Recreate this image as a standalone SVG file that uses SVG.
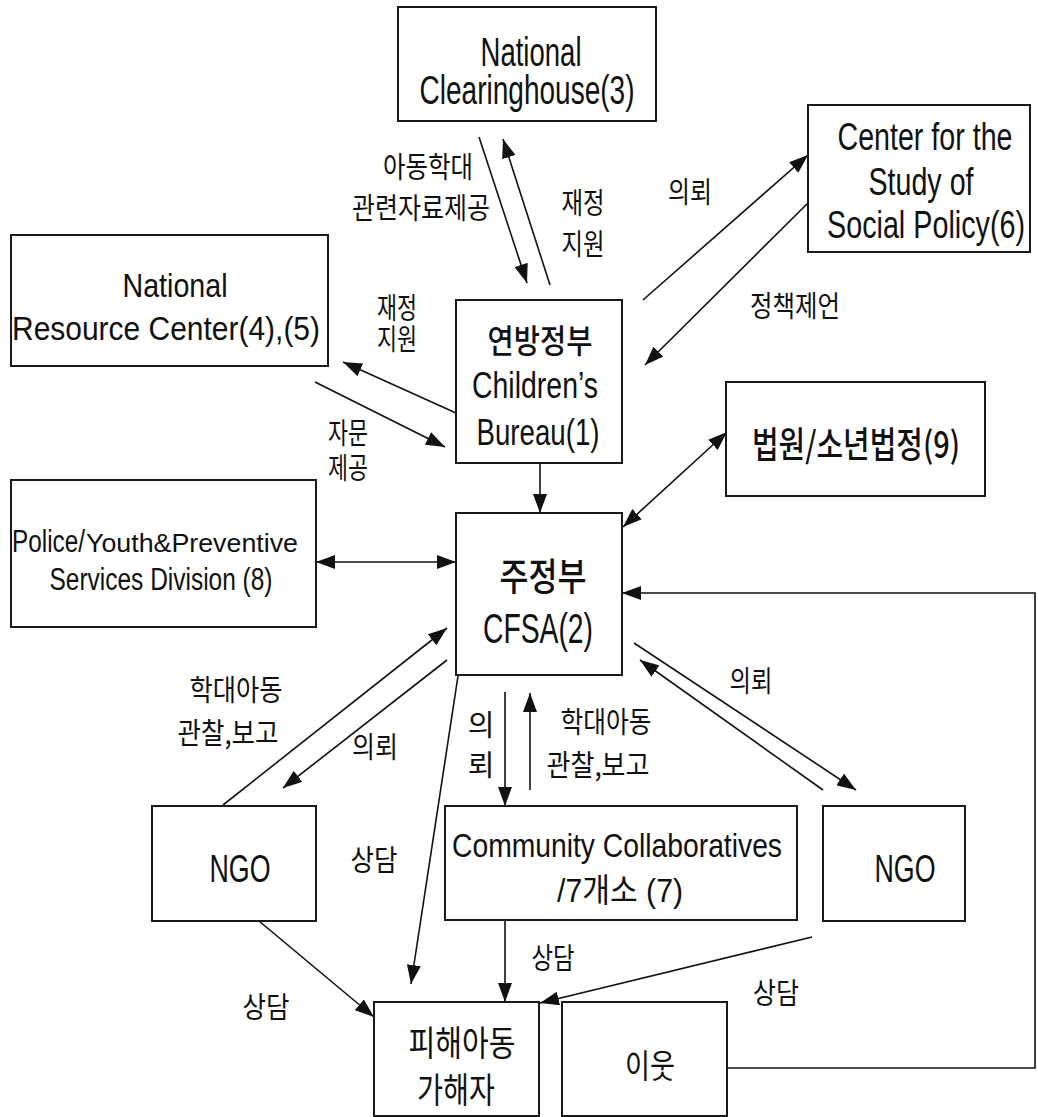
<svg xmlns="http://www.w3.org/2000/svg" width="1038" height="1117" viewBox="0 0 1038 1117">
<style>
.box{fill:#fff;stroke:#1a1a1a;stroke-width:2}
.en{font-family:"Liberation Sans","Noto Sans CJK KR",sans-serif;fill:#111;text-anchor:middle}
.ko{font-family:"Noto Sans CJK KR",sans-serif;fill:#111;text-anchor:middle;dominant-baseline:central}
.bk{font-weight:500}
.lab{font-size:29px}
.ln{fill:none;stroke:#111;stroke-width:1.6}
.a{marker-end:url(#ah)}
.aa{marker-end:url(#ah);marker-start:url(#ah)}
</style>
<defs>
<marker id="ah" markerUnits="userSpaceOnUse" markerWidth="19" markerHeight="14" viewBox="0 0 19 14" refX="19" refY="7" orient="auto-start-reverse">
<path d="M0,0 L19,7 L0,14 z" fill="#111"/>
</marker>
</defs>

<g id="connectors">
<line class="ln a" x1="479" y1="137" x2="527" y2="283"/>
<line class="ln a" x1="550" y1="285" x2="503" y2="139"/>
<line class="ln a" x1="643" y1="300" x2="808" y2="155"/>
<line class="ln a" x1="808" y1="203" x2="645" y2="365"/>
<line class="ln a" x1="456" y1="413" x2="343" y2="362"/>
<line class="ln a" x1="315" y1="382" x2="445" y2="447"/>
<line class="ln a" x1="540" y1="463" x2="540" y2="513"/>
<line class="ln aa" x1="727" y1="432" x2="623" y2="527"/>
<line class="ln aa" x1="316" y1="562" x2="456" y2="562"/>
<line class="ln a" x1="223" y1="805" x2="447" y2="628"/>
<line class="ln a" x1="447" y1="660" x2="283" y2="788"/>
<line class="ln a" x1="505" y1="692" x2="505" y2="806"/>
<line class="ln a" x1="530" y1="790" x2="530" y2="693"/>
<line class="ln a" x1="634" y1="643" x2="856" y2="790"/>
<line class="ln a" x1="823" y1="790" x2="640" y2="660"/>
<line class="ln a" x1="458" y1="676" x2="411" y2="984"/>
<line class="ln a" x1="259" y1="921" x2="374" y2="1017"/>
<line class="ln a" x1="505" y1="921" x2="505" y2="1002"/>
<line class="ln a" x1="812" y1="937" x2="540" y2="1003"/>
<polyline class="ln a" points="727,1068 1035,1068 1035,593 622,593"/>
</g>

<g id="labels">
<text class="ko lab" x="428" y="165" textLength="90" lengthAdjust="spacingAndGlyphs">아동학대</text>
<text class="ko lab" x="421" y="206" textLength="138" lengthAdjust="spacingAndGlyphs">관련자료제공</text>
<text class="ko lab" x="583" y="201" textLength="43" lengthAdjust="spacingAndGlyphs">재정</text>
<text class="ko lab" x="583" y="242" textLength="43" lengthAdjust="spacingAndGlyphs">지원</text>
<text class="ko lab" x="690" y="190" textLength="44" lengthAdjust="spacingAndGlyphs">의뢰</text>
<text class="ko lab" x="795" y="304" textLength="90" lengthAdjust="spacingAndGlyphs">정책제언</text>
<text class="ko lab" x="397" y="306" textLength="40" lengthAdjust="spacingAndGlyphs">재정</text>
<text class="ko lab" x="397" y="337" textLength="40" lengthAdjust="spacingAndGlyphs">지원</text>
<text class="ko lab" x="348" y="431" textLength="40" lengthAdjust="spacingAndGlyphs">자문</text>
<text class="ko lab" x="348" y="466" textLength="40" lengthAdjust="spacingAndGlyphs">제공</text>
<text class="ko lab" x="236" y="688" textLength="93" lengthAdjust="spacingAndGlyphs">학대아동</text>
<text class="ko lab" x="228" y="731" textLength="101" lengthAdjust="spacingAndGlyphs">관찰,보고</text>
<text class="ko lab" x="375" y="745" textLength="46" lengthAdjust="spacingAndGlyphs">의뢰</text>
<text class="ko lab" x="481" y="723">의</text>
<text class="ko lab" x="481" y="763">뢰</text>
<text class="ko lab" x="606" y="720" textLength="91" lengthAdjust="spacingAndGlyphs">학대아동</text>
<text class="ko lab" x="598" y="763" textLength="103" lengthAdjust="spacingAndGlyphs">관찰,보고</text>
<text class="ko lab" x="751" y="679" textLength="43" lengthAdjust="spacingAndGlyphs">의뢰</text>
<text class="ko lab" x="374" y="858" textLength="47" lengthAdjust="spacingAndGlyphs">상담</text>
<text class="ko lab" x="266" y="1005" textLength="47" lengthAdjust="spacingAndGlyphs">상담</text>
<text class="ko lab" x="553" y="956" textLength="43" lengthAdjust="spacingAndGlyphs">상담</text>
<text class="ko lab" x="776" y="991" textLength="46" lengthAdjust="spacingAndGlyphs">상담</text>
</g>

<g id="clearinghouse">
<rect class="box" x="398" y="7" width="258" height="114"/>
<text class="en" x="531" y="66" font-size="41" textLength="101" lengthAdjust="spacingAndGlyphs">National</text>
<text class="en" x="527" y="104" font-size="41" textLength="215" lengthAdjust="spacingAndGlyphs">Clearinghouse(3)</text>
</g>

<g id="center-social-policy">
<rect class="box" x="808" y="105" width="222" height="147"/>
<text class="en" x="925" y="150" font-size="38" textLength="175" lengthAdjust="spacingAndGlyphs">Center for the</text>
<text class="en" x="921" y="195" font-size="38" textLength="105" lengthAdjust="spacingAndGlyphs">Study of</text>
<text class="en" x="926" y="238" font-size="38" textLength="198" lengthAdjust="spacingAndGlyphs">Social Policy(6)</text>
</g>

<g id="resource-center">
<rect class="box" x="11" y="235" width="317" height="131"/>
<text class="en" x="175" y="297" font-size="33" textLength="105" lengthAdjust="spacingAndGlyphs">National</text>
<text class="en" x="166" y="340" font-size="33" textLength="308" lengthAdjust="spacingAndGlyphs">Resource Center(4),(5)</text>
</g>

<g id="childrens-bureau">
<rect class="box" x="456" y="300" width="166" height="163"/>
<text class="ko bk" x="540" y="339" font-size="33" textLength="105" lengthAdjust="spacingAndGlyphs">연방정부</text>
<text class="en" x="535" y="398" font-size="36" textLength="126" lengthAdjust="spacingAndGlyphs">Children’s</text>
<text class="en" x="538" y="445" font-size="36" textLength="123" lengthAdjust="spacingAndGlyphs">Bureau(1)</text>
</g>

<g id="court">
<rect class="box" x="726" y="382" width="259" height="114"/>
<text class="ko bk" x="856" y="442" font-size="36" textLength="208" lengthAdjust="spacingAndGlyphs">법원/소년법정(9)</text>
</g>

<g id="police">
<rect class="box" x="11" y="480" width="305" height="147"/>
<text class="en" x="12" y="552" font-size="31" style="text-anchor:start" textLength="73" lengthAdjust="spacingAndGlyphs">Police/</text>
<text class="en" x="86" y="552" font-size="25" style="text-anchor:start" textLength="212" lengthAdjust="spacingAndGlyphs">Youth&amp;Preventive</text>
<text class="en" x="161" y="590" font-size="31" textLength="223" lengthAdjust="spacingAndGlyphs">Services Division (8)</text>
</g>

<g id="cfsa">
<rect class="box" x="456" y="513" width="166" height="162"/>
<text class="ko bk" x="543" y="573" font-size="38" textLength="87" lengthAdjust="spacingAndGlyphs">주정부</text>
<text class="en" x="538" y="643" font-size="42" textLength="110" lengthAdjust="spacingAndGlyphs">CFSA(2)</text>
</g>

<g id="ngo-left">
<rect class="box" x="152" y="806" width="164" height="115"/>
<text class="en" x="240" y="882" font-size="38" textLength="61" lengthAdjust="spacingAndGlyphs">NGO</text>
</g>

<g id="community">
<rect class="box" x="445" y="806" width="352" height="114"/>
<text class="en" x="617" y="857" font-size="34" textLength="330" lengthAdjust="spacingAndGlyphs">Community Collaboratives</text>
<text class="ko" x="620" y="890" font-size="33" textLength="126" lengthAdjust="spacingAndGlyphs" style="font-family:'Liberation Sans','Noto Sans CJK KR',sans-serif">/7개소 (7)</text>
</g>

<g id="ngo-right">
<rect class="box" x="823" y="806" width="142" height="115"/>
<text class="en" x="905" y="882" font-size="38" textLength="61" lengthAdjust="spacingAndGlyphs">NGO</text>
</g>

<g id="victim">
<rect class="box" x="374" y="1002" width="165" height="114"/>
<text class="ko" x="462" y="1040" font-size="35" textLength="107" lengthAdjust="spacingAndGlyphs">피해아동</text>
<text class="ko" x="456" y="1087" font-size="35" textLength="78" lengthAdjust="spacingAndGlyphs">가해자</text>
</g>

<g id="neighbor">
<rect class="box" x="562" y="1002" width="165" height="114"/>
<text class="ko" x="650" y="1064" font-size="33" textLength="50" lengthAdjust="spacingAndGlyphs">이웃</text>
</g>
</svg>
